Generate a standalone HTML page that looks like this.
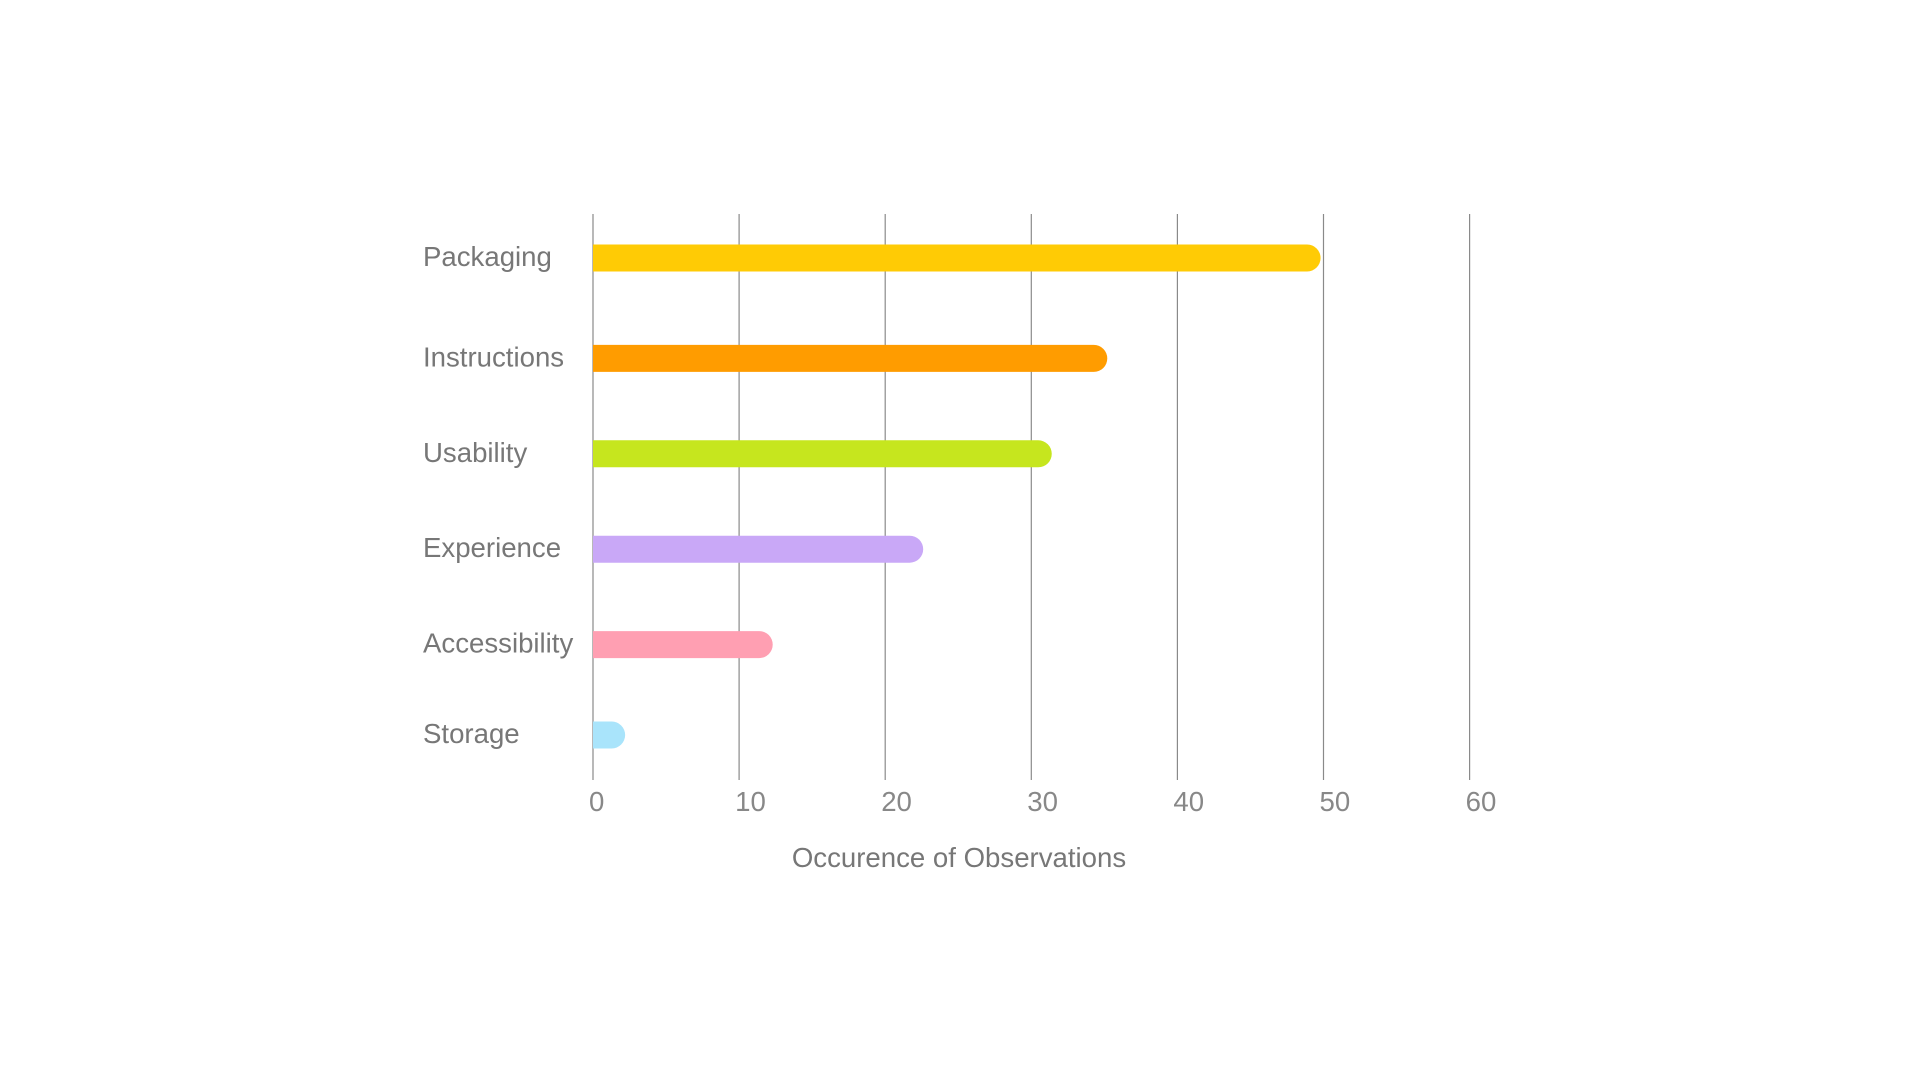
<!DOCTYPE html>
<html><head><meta charset="utf-8">
<style>
html,body{margin:0;padding:0;background:#fff;}
svg{display:block;font-family:"Liberation Sans",Arial,sans-serif;}
</style></head>
<body>
<svg id="chart" width="1920" height="1080" viewBox="0 0 1920 1080">
<g id="grid"></g>
<g id="bars"></g>
<g id="labels"></g>
<g id="ticks"></g>
<text x="959" y="867" text-anchor="middle" font-size="27.6" fill="#777">Occurence of Observations</text>
</svg>
<script>
const categories = ["Packaging","Instructions","Usability","Experience","Accessibility","Storage"];
const values = [49.8, 35.2, 31.4, 22.6, 12.3, 2.2];
const colors = ["#ffcb05","#ff9c00","#c6e61e","#c9a8f7","#ff9fb2","#a9e4fb"];
const tickValues = [0,10,20,30,40,50,60];
const tickLabels = ["0","10","20","30","40","50","60"];

const NS="http://www.w3.org/2000/svg";
const x0=593, xPer=14.61, gridTop=214, gridBottom=780;
const yFirst=258, yStep=95.4, barH=27;
function xs(v){return x0+v*xPer;}
function ys(i){return yFirst+i*yStep+ (i>0&&i<5 ? 5 : 0);}
function mk(tag,attrs,parent){const e=document.createElementNS(NS,tag);for(const k in attrs)e.setAttribute(k,attrs[k]);parent.appendChild(e);return e;}

const grid=document.getElementById('grid');
const ticks=document.getElementById('ticks');
tickValues.forEach((t,i)=>{
  const l=mk('line',{x1:xs(t),x2:xs(t),y1:gridTop,y2:gridBottom,stroke:'#8a8a8a','stroke-width':1.2},grid);
  
  
  const tx=mk('text',{x:xs(t)-4,y:811,'text-anchor':'start','font-size':27.6,fill:'#888'},ticks);
  tx.textContent=tickLabels[i];
  
  
});

const bars=document.getElementById('bars');
const labels=document.getElementById('labels');
categories.forEach((c,i)=>{
  const yc=ys(i), xe=xs(values[i]), r=barH/2;
  const d=`M${x0},${yc-r} L${xe-r},${yc-r} A${r},${r} 0 0 1 ${xe-r},${yc+r} L${x0},${yc+r} Z`;
  const p=mk('path',{d:d,fill:colors[i]},bars);
  
  
  const t=mk('text',{x:423,y:yc+8,'font-size':27.6,fill:'#777'},labels);
  t.textContent=c;
  
  
});
</script>
</body></html>
